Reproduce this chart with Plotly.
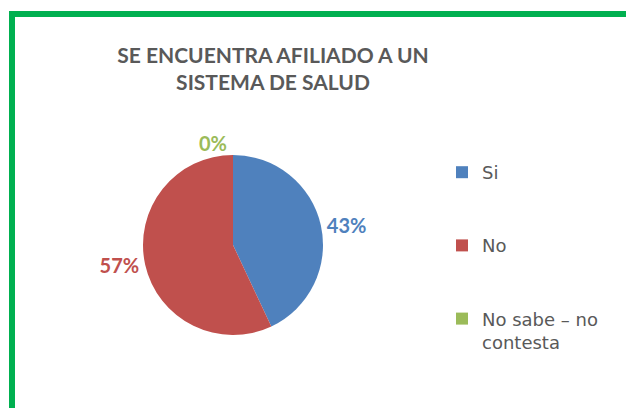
import plotly.graph_objects as go

categories = ["Si", "No", "No sabe – no contesta"]
values = [43, 57, 0]
colors = ["#4F81BD", "#C0504D", "#9BBB59"]
legend_labels = ["Si<br> <br> ", "No<br> <br> ", "No sabe – no<br>contesta"]
title_text = "SE ENCUENTRA AFILIADO A UN<br>SISTEMA DE SALUD"

W, H = 634, 408
# the page body adds an 8px offset; coordinates below are figure pixels


def px_x(x):
    return x / W


def px_y(y):
    return 1 - y / H


fig = go.Figure()
fig.add_trace(go.Pie(
    labels=legend_labels,
    values=values,
    sort=False,
    direction="clockwise",
    rotation=0,
    marker=dict(colors=colors, line=dict(width=0)),
    texttemplate="%{percent:.0%}",
    textposition="outside",
    textfont=dict(family="Lato", size=20, color=colors, weight="bold"),
    hoverinfo="skip",
    domain=dict(x=[px_x(72), px_x(378)], y=[px_y(327), px_y(147)]),
))

fig.update_layout(
    width=W, height=H,
    margin=dict(l=0, r=0, t=0, b=0, autoexpand=False),
    paper_bgcolor="white",
    plot_bgcolor="white",
    title=dict(
        text=title_text,
        x=px_x(265), xanchor="center",
        y=px_y(55), yanchor="middle",
        font=dict(family="Lato", size=21, color="#595959", weight="bold"),
    ),
    legend=dict(
        x=px_x(434), xanchor="left",
        y=px_y(146), yanchor="top",
        valign="top",
        font=dict(family="DejaVu Sans", size=18, color="#595959"),
        itemwidth=30,
        bgcolor="rgba(0,0,0,0)",
    ),
    shapes=[dict(
        type="rect", xref="paper", yref="paper",
        x0=px_x(4), x1=1.05, y0=-0.05, y1=px_y(6),
        line=dict(color="#00B050", width=6),
        fillcolor="rgba(0,0,0,0)",
    )],
)

fig.write_html("out.html")
